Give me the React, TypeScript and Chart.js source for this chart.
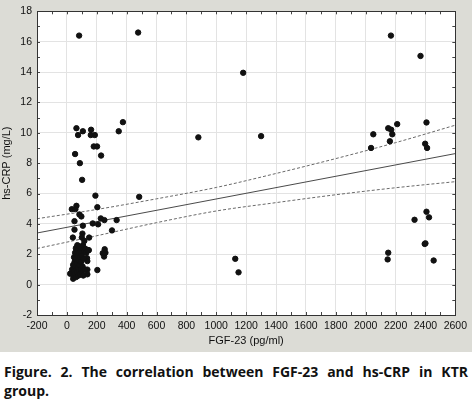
import React, { useEffect, useRef } from "react";
import { Chart, registerables } from "chart.js";
Chart.register(...registerables);

// Scatter points (FGF-23 pg/ml, hs-CRP mg/L)
const fgf23 = [
  82, 477, 64, 75, 107, 162, 160, 187, 180, 202, 229, 55, 87, 347, 375, 880, 102,
  191, 484, 64, 33, 57, 204, 84, 97, 51, 227, 251, 333, 173, 209, 107, 51, 302, 104, 40, 100, 149, 117,
  253, 240, 249, 258, 147, 135, 137, 137, 137, 204, 22, 42,
  30, 35, 45, 42, 48, 50, 52, 55, 55, 58, 60, 60, 62, 65, 65, 68, 70, 70, 72, 75, 75, 78, 78, 80, 82,
  85, 85, 88, 90, 92, 95, 95, 98, 100, 102, 105, 108, 110, 112, 118, 120, 125, 130, 140,
  1180, 1300, 2169, 2367, 2407, 2211, 2151, 2171, 2178, 2051, 2162, 2036, 2398, 2411,
  1127, 1149, 2327, 2407, 2424, 2395, 2400, 2151, 2147, 2455,
];
const hsCrp = [
  16.4, 16.6, 10.3, 9.85, 10.1, 10.2, 9.85, 9.85, 9.1, 9.1, 8.5, 8.6, 8.0, 10.1, 10.7, 9.7, 6.9,
  5.86, 5.78, 5.19, 4.97, 4.97, 5.1, 4.62, 4.49, 4.18, 4.36, 4.25, 4.25, 4.03, 3.97, 3.88, 3.62, 3.57, 3.36, 3.1, 3.1, 3.1, 2.88,
  2.33, 2.07, 1.85, 2.1, 2.27, 1.74, 1.55, 0.99, 0.68, 0.96, 0.72, 0.39,
  0.75, 1.0, 0.6, 1.3, 1.8, 0.9, 1.5, 2.1, 0.7, 1.2, 2.4, 1.7, 0.5, 1.0, 2.0, 1.4, 2.6, 0.8, 1.9, 1.1, 2.3, 0.6, 1.6, 2.1, 0.9,
  1.3, 2.5, 1.8, 0.7, 2.2, 1.0, 1.5, 2.4, 0.8, 1.9, 1.2, 2.6, 0.6, 1.7, 2.2, 1.0, 2.35, 2.1, 2.27,
  13.95, 9.78, 16.4, 15.06, 10.68, 10.57, 10.3, 10.2, 9.9, 9.9, 9.44, 9.0, 9.28, 9.0,
  1.7, 0.81, 4.27, 4.8, 4.43, 2.68, 2.72, 2.1, 1.66, 1.59,
];

// Regression line and 95% confidence band
const fitX = [-200, 2600];
const fitY = [3.4, 8.63];
const bandX = [-200, 200, 600, 1000, 1400, 1800, 2200, 2600];
const upperY = [4.34, 4.95, 5.65, 6.4, 7.32, 8.3, 9.35, 10.5];
const lowerY = [2.38, 3.22, 4.08, 4.85, 5.4, 5.92, 6.38, 6.78];

const xMin = -200, xMax = 2600, xStep = 200, xMinor = 100;
const yMin = -2, yMax = 18, yStep = 2, yMinor = 1;
const xTitle = "FGF-23 (pg/ml)";
const yTitle = "hs-CRP (mg/L)";
const caption1 = "Figure. 2. The correlation between FGF-23 and hs-CRP in KTR";
const caption2 = "group.";

const frame = {
  id: "frame",
  beforeDraw(chart: any) {
    const { ctx, chartArea: a } = chart;
    ctx.save();
    ctx.fillStyle = "#ffffff";
    ctx.fillRect(a.left, a.top, a.right - a.left, a.bottom - a.top);
    ctx.restore();
  },
  afterDraw(chart: any) {
    const { ctx, chartArea: a, scales } = chart;
    ctx.save();
    ctx.strokeStyle = "#444";
    ctx.lineWidth = 1;
    ctx.beginPath();
    for (let v = xMin; v <= xMax; v += xMinor) {
      const px = Math.round(scales.x.getPixelForValue(v)) + 0.5;
      ctx.moveTo(px, a.bottom); ctx.lineTo(px, a.bottom - 3);
      ctx.moveTo(px, a.top); ctx.lineTo(px, a.top + 3);
    }
    for (let v = yMin; v <= yMax; v += yMinor) {
      const py = Math.round(scales.y.getPixelForValue(v)) + 0.5;
      ctx.moveTo(a.left, py); ctx.lineTo(a.left + 3, py);
      ctx.moveTo(a.right, py); ctx.lineTo(a.right - 3, py);
    }
    ctx.stroke();
    ctx.strokeStyle = "#333";
    ctx.strokeRect(Math.round(a.left) + 0.5, Math.round(a.top) + 0.5, Math.round(a.right - a.left), Math.round(a.bottom - a.top));
    ctx.restore();
  },
};

export default function App() {
  const ref = useRef<HTMLCanvasElement>(null);
  useEffect(() => {
    const pts = fgf23.map((x, i) => ({ x, y: hsCrp[i] }));
    const font = { family: "'Liberation Sans', Arial, sans-serif", size: 11 };
    const tickFont = { family: "'Liberation Sans Narrow', 'Liberation Sans', Arial, sans-serif", size: 10.5 };
    const chart = new Chart(ref.current!, {
      type: "scatter",
      data: {
        datasets: [
          {
            data: pts,
            backgroundColor: "#111",
            borderColor: "#111",
            pointRadius: 2.7,
            pointHoverRadius: 2.7,
            order: 0,
          },
          {
            type: "line",
            data: fitX.map((x, i) => ({ x, y: fitY[i] })),
            borderColor: "#4a4a4a",
            borderWidth: 1,
            pointRadius: 0,
            order: 1,
          },
          {
            type: "line",
            data: bandX.map((x, i) => ({ x, y: upperY[i] })),
            borderColor: "#6a6a6a",
            borderWidth: 1,
            borderDash: [3, 2],
            cubicInterpolationMode: "monotone",
            pointRadius: 0,
            order: 1,
          },
          {
            type: "line",
            data: bandX.map((x, i) => ({ x, y: lowerY[i] })),
            borderColor: "#6a6a6a",
            borderWidth: 1,
            borderDash: [3, 2],
            cubicInterpolationMode: "monotone",
            pointRadius: 0,
            order: 1,
          },
        ] as any,
      },
      options: {
        animation: false,
        responsive: false,
        maintainAspectRatio: false,
        layout: { padding: { top: 9, right: 15, left: 0, bottom: 0 } },
        plugins: { legend: { display: false }, tooltip: { enabled: false } },
        scales: {
          x: {
            type: "linear",
            min: xMin,
            max: xMax,
            afterFit: (s: any) => { s.height = 37; },
            ticks: {
              stepSize: xStep,
              color: "#111",
              font: tickFont,
              padding: 5,
              maxRotation: 0,
              autoSkip: false,
              callback: (v: any) => String(v),
            },
            grid: { color: "#e3e3e3", drawTicks: false },
            border: { display: false },
            title: { display: true, text: xTitle, color: "#111", font, padding: { top: 0, bottom: 4 } },
          },
          y: {
            type: "linear",
            min: yMin,
            max: yMax,
            afterFit: (s: any) => { s.width = 37; },
            ticks: { stepSize: yStep, color: "#111", font: tickFont, padding: 5, callback: (v: any) => String(v) },
            grid: { color: "#e3e3e3", drawTicks: false },
            border: { display: false },
            title: { display: true, text: yTitle, color: "#111", font, padding: { top: 0, bottom: 0 } },
          },
        },
      },
      plugins: [frame],
    } as any);
    return () => chart.destroy();
  }, []);

  return (
    <div style={{ position: "absolute", left: 0, top: 0, width: 472, height: 419, background: "#fff" }}>
      <div style={{ width: 472, height: 352, background: "#dcdcd6" }}>
        <canvas ref={ref} width={472} height={352} style={{ display: "block", width: 472, height: 352 }} />
      </div>
      <div
        style={{
          position: "absolute",
          left: 4,
          top: 362,
          width: 464,
          fontFamily: "'Open Sans', 'Noto Sans', sans-serif",
          fontWeight: 700,
          fontSize: 14,
          lineHeight: "19px",
          color: "#111",
          textAlign: "justify",
          textAlignLast: "justify",
        }}
      >
        <div>{caption1}</div>
        <div style={{ textAlignLast: "left" }}>{caption2}</div>
      </div>
    </div>
  );
}
